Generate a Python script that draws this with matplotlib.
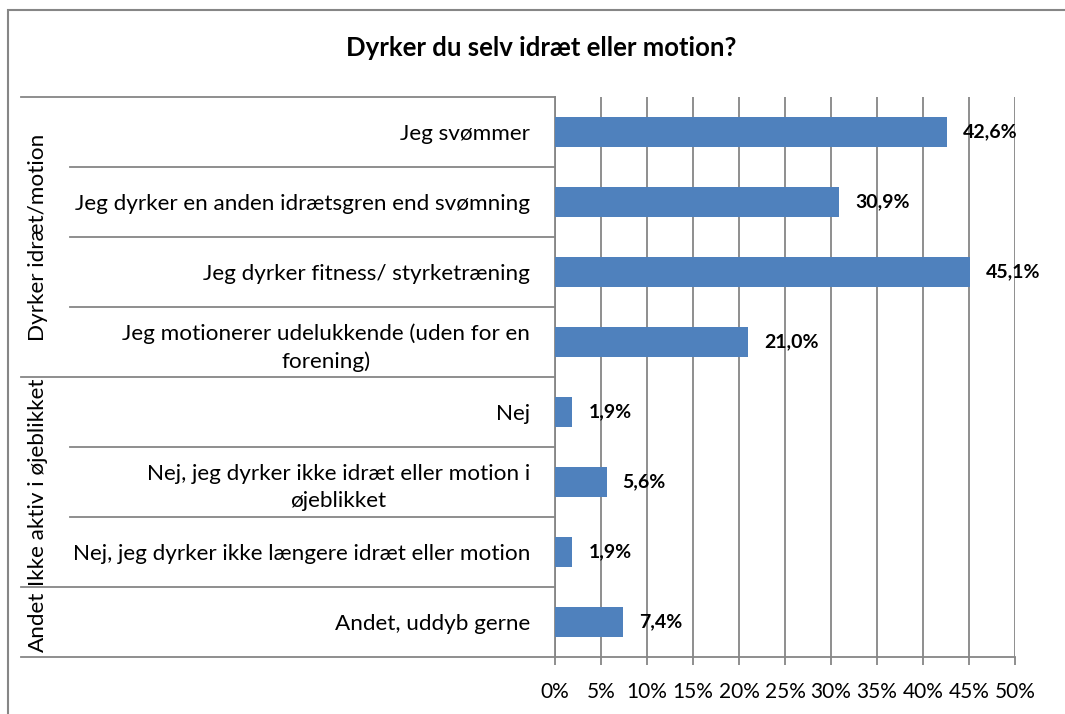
import matplotlib
matplotlib.use("Agg")
import matplotlib.pyplot as plt
from matplotlib.transforms import blended_transform_factory
from matplotlib.patches import Rectangle

title = "Dyrker du selv idræt eller motion?"
categories = [
    "Jeg svømmer",
    "Jeg dyrker en anden idrætsgren end svømning",
    "Jeg dyrker fitness/ styrketræning",
    "Jeg motionerer udelukkende (uden for en\nforening)",
    "Nej",
    "Nej, jeg dyrker ikke idræt eller motion i\nøjeblikket",
    "Nej, jeg dyrker ikke længere idræt eller motion",
    "Andet, uddyb gerne",
]
values = [42.6, 30.9, 45.1, 21.0, 1.9, 5.6, 1.9, 7.4]
groups = ["Dyrker idræt/motion", "Ikke aktiv i øjeblikket", "Andet"]
group_sizes = [4, 3, 1]
xticks = [0, 5, 10, 15, 20, 25, 30, 35, 40, 45, 50]

W, H = 1065, 714
FONT = "Lato"
plt.rcParams["font.family"] = [FONT, "DejaVu Sans"]
GRAY = "#868686"
BAR = "#4F81BD"

fig = plt.figure(figsize=(W / 100, H / 100), dpi=100)
ax = fig.add_axes([555 / W, (H - 657) / H, (1015 - 555) / W, (657 - 97) / H])

n = len(categories)
ypos = list(range(n))
ax.barh(ypos, values, height=0.42, color=BAR, zorder=3)
ax.set_ylim(n - 0.5, -0.5)
ax.set_xlim(0, 50)
ax.set_xticks(xticks)
ax.set_xticklabels([f"{t}%" for t in xticks], fontsize=15)
ax.tick_params(axis="x", length=6, color=GRAY, width=1.3, pad=12)
ax.set_yticks(ypos)
ax.set_yticklabels(categories, fontsize=16.2, multialignment="center",
                   linespacing=1.45)
ax.tick_params(axis="y", length=0, pad=18)
ax.grid(axis="x", color=GRAY, linewidth=1.3, zorder=0)
for s in ["top", "right"]:
    ax.spines[s].set_visible(False)
for s in ["left", "bottom"]:
    ax.spines[s].set_color(GRAY)
    ax.spines[s].set_linewidth(1.3)

for y, v in zip(ypos, values):
    ax.annotate(f"{v:.1f}%".replace(".", ","), (v, y), xytext=(16, 0),
                textcoords="offset pixels", va="center", ha="left",
                fontsize=14, fontweight="bold", zorder=4)

# category separators and group labels
tr = blended_transform_factory(fig.transFigure, ax.transData)
x_axis = 555 / W
x_cat = 70 / W
x_grp = 21 / W
start = 0
bounds = {-0.5: x_grp}
for g, size in zip(groups, group_sizes):
    end = start + size
    bounds[end - 0.5] = x_grp
    for k in range(start + 1, end):
        bounds.setdefault(k - 0.5, x_cat)
    fig.text(38 / W, (start + end - 1) / 2, g, transform=tr, rotation=90,
             ha="center", va="center", fontsize=16.2)
    start = end
for yb, x0 in bounds.items():
    fig.add_artist(plt.Line2D([x0, x_axis], [yb, yb], transform=tr,
                              color=GRAY, linewidth=1.3))

fig.text(541 / W, 1 - 48 / H, title, ha="center", va="center",
         fontsize=18.5, fontweight="bold")

# chart border
fig.add_artist(Rectangle((8 / W, -0.1), 1.2, 1 - 10 / H + 0.1,
                         transform=fig.transFigure, fill=False,
                         edgecolor=GRAY, linewidth=1.5))

fig.savefig("out.png", dpi=100)
